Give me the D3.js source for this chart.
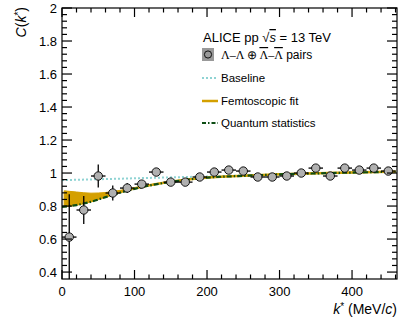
<!DOCTYPE html>
<html>
<head>
<meta charset="utf-8">
<script src="https://cdn.jsdelivr.net/npm/d3@7"></script>
<style>
  body { margin: 0; background: #fff; }
  text { font-family: "Liberation Sans", Arial, sans-serif; }
</style>
</head>
<body>
<svg id="chart" width="407" height="329"></svg>
<script>
// data points: k* bin centres, C(k*), stat. errors
const kStar = [10, 30, 50, 70, 90, 110, 130, 150, 170, 190, 210, 230, 250, 270, 290, 310, 330, 350, 370, 390, 410, 430, 450]
const cVal = [0.612, 0.776, 0.982, 0.879, 0.909, 0.933, 1.006, 0.945, 0.945, 0.976, 1.006, 1.018, 1.012, 0.976, 0.976, 0.982, 1.0, 1.03, 0.982, 1.03, 1.018, 1.03, 1.012]
const cErr = [0.26, 0.085, 0.07, 0.045, 0.03, 0.025, 0.022, 0.015, 0.012, 0.01, 0.008, 0.008, 0.008, 0.008, 0.008, 0.008, 0.008, 0.008, 0.008, 0.008, 0.008, 0.008, 0.008]

// curves
const curveK = [3, 20, 40, 60, 80, 100, 120, 150, 200, 250, 300, 350, 400, 460]
const fitUpper = [0.892, 0.885, 0.878, 0.882, 0.895, 0.912, 0.93, 0.952, 0.977, 0.988, 0.997, 1.003, 1.008, 1.013]
const fitLower = [0.795, 0.805, 0.825, 0.853, 0.88, 0.902, 0.921, 0.943, 0.968, 0.979, 0.988, 0.994, 0.999, 1.004]
const qsK = [0, 20, 40, 60, 80, 100, 120, 150, 200, 250, 300, 350, 400, 460]
const qsVal = [0.795, 0.806, 0.826, 0.854, 0.881, 0.904, 0.924, 0.946, 0.972, 0.983, 0.992, 0.998, 1.003, 1.008]
const baseK = [0, 460]
const baseVal = [0.957, 1.008]

const xTicks = [0, 100, 200, 300, 400]
const yTicks = [0.4, 0.6, 0.8, 1, 1.2, 1.4, 1.6, 1.8, 2]

const svg = d3.select('#chart')
const L = 62, R = 397, T = 8, B = 279

const x = d3.scaleLinear().domain([0, 462]).range([L, R])
const y = d3.scaleLinear().domain([0.358, 2]).range([B, T])

const plot = svg.append('g')
svg.append('clipPath').attr('id', 'clip').append('rect')
  .attr('x', L).attr('y', T).attr('width', R - L).attr('height', B - T)
plot.attr('clip-path', 'url(#clip)')

// baseline
plot.append('path')
  .datum(baseK.map((k, i) => [k, baseVal[i]]))
  .attr('d', d3.line().x(d => x(d[0])).y(d => y(d[1])))
  .attr('fill', 'none').attr('stroke', '#8fd3d3').attr('stroke-width', 2)
  .attr('stroke-dasharray', '2,2')

// femtoscopic fit band
plot.append('path')
  .datum(curveK.map((k, i) => [k, fitLower[i], fitUpper[i]]))
  .attr('d', d3.area().curve(d3.curveMonotoneX)
    .x(d => x(d[0])).y0(d => y(d[1])).y1(d => y(d[2])))
  .attr('fill', '#d4a000').attr('stroke', '#d4a000').attr('stroke-width', 1)

// quantum statistics
plot.append('path')
  .datum(qsK.map((k, i) => [k, qsVal[i]]))
  .attr('d', d3.line().curve(d3.curveMonotoneX).x(d => x(d[0])).y(d => y(d[1])))
  .attr('fill', 'none').attr('stroke', '#0d4d14').attr('stroke-width', 2.2)
  .attr('stroke-dasharray', '5,2,1.5,2')

// data with error bars
const pts = kStar.map((k, i) => ({ k: k, c: cVal[i], e: cErr[i] }))
const eg = plot.append('g').attr('stroke', '#000').attr('stroke-width', 1.3)
eg.selectAll('.ey').data(pts).enter().append('line')
  .attr('x1', d => x(d.k)).attr('x2', d => x(d.k))
  .attr('y1', d => y(d.c - d.e)).attr('y2', d => y(d.c + d.e))
eg.selectAll('.ex').data(pts).enter().append('line')
  .attr('x1', d => x(d.k - 10)).attr('x2', d => x(d.k + 10))
  .attr('y1', d => y(d.c)).attr('y2', d => y(d.c))
plot.selectAll('circle').data(pts).enter().append('circle')
  .attr('cx', d => x(d.k)).attr('cy', d => y(d.c)).attr('r', 4.2)
  .attr('fill', '#b0b0b0').attr('stroke', '#000').attr('stroke-width', 0.9)

// frame and ticks (ROOT style, inward)
const ax = svg.append('g').attr('stroke', '#000').attr('stroke-width', 1.2)
ax.append('rect').attr('x', L).attr('y', T).attr('width', R - L).attr('height', B - T).attr('fill', 'none')
const xMinor = d3.range(0, 462, 20)
xMinor.forEach(v => {
  const len = v % 100 === 0 ? 9 : 4.5
  ax.append('line').attr('x1', x(v)).attr('x2', x(v)).attr('y1', B).attr('y2', B - len)
  ax.append('line').attr('x1', x(v)).attr('x2', x(v)).attr('y1', T).attr('y2', T + len)
})
const yMinor = d3.range(0.4, 2.001, 0.04)
yMinor.forEach(v => {
  const major = Math.abs(v * 5 - Math.round(v * 5)) < 1e-6
  const len = major ? 10 : 5
  ax.append('line').attr('x1', L).attr('x2', L + len).attr('y1', y(v)).attr('y2', y(v))
  ax.append('line').attr('x1', R).attr('x2', R - len).attr('y1', y(v)).attr('y2', y(v))
})

svg.selectAll('.xl').data(xTicks).enter().append('text')
  .attr('x', d => x(d)).attr('y', B + 17).attr('text-anchor', 'middle')
  .attr('font-size', 13).text(d => d)
svg.selectAll('.yl').data(yTicks).enter().append('text')
  .attr('x', L - 5).attr('y', d => y(d) + 5).attr('text-anchor', 'end')
  .attr('font-size', 13).text(d => d)

// axis titles
const xt = svg.append('text').attr('x', R).attr('y', 314).attr('text-anchor', 'end').attr('font-size', 14)
xt.append('tspan').attr('font-style', 'italic').text('k')
xt.append('tspan').attr('font-size', 10).attr('dy', -4).text('*')
xt.append('tspan').attr('dy', 4).text(' (MeV/')
xt.append('tspan').attr('font-style', 'italic').text('c')
xt.append('tspan').text(')')

const yt = svg.append('text').attr('transform', 'translate(26,7) rotate(-90)')
  .attr('text-anchor', 'end').attr('font-size', 14)
yt.append('tspan').attr('font-style', 'italic').text('C')
yt.append('tspan').text('(')
yt.append('tspan').attr('font-style', 'italic').text('k')
yt.append('tspan').attr('font-size', 10).attr('dy', -4).text('*')
yt.append('tspan').attr('dy', 4).text(')')

// legend
const lg = svg.append('g')
const t1 = lg.append('text').attr('x', 203).attr('y', 42).attr('font-size', 13)
t1.append('tspan').text('ALICE pp ')
t1.append('tspan').text('√')
t1.append('tspan').attr('font-style', 'italic').style('text-decoration', 'overline').text('s')
t1.append('tspan').text(' = 13 TeV')

lg.append('rect').attr('x', 202).attr('y', 48).attr('width', 12).attr('height', 13).attr('fill', '#999')
lg.append('circle').attr('cx', 208).attr('cy', 54.5).attr('r', 3.6).attr('fill', 'none').attr('stroke', '#000').attr('stroke-width', 0.9)
const t2 = lg.append('text').attr('x', 221).attr('y', 59).attr('font-size', 12)
t2.append('tspan').attr('font-family', 'Liberation Serif, serif').text('Λ–Λ ⊕ ')
t2.append('tspan').attr('font-family', 'Liberation Serif, serif').style('text-decoration', 'overline').text('Λ')
t2.append('tspan').attr('font-family', 'Liberation Serif, serif').text('–')
t2.append('tspan').attr('font-family', 'Liberation Serif, serif').style('text-decoration', 'overline').text('Λ')
t2.append('tspan').text(' pairs')

const items = [
  { label: 'Baseline', y: 78, color: '#8fd3d3', dash: '2,2', w: 2 },
  { label: 'Femtoscopic fit', y: 101, color: '#d4a000', dash: null, w: 2.5 },
  { label: 'Quantum statistics', y: 123, color: '#0d4d14', dash: '4,2,1.5,2', w: 2.2 }
]
items.forEach(it => {
  lg.append('line').attr('x1', 202).attr('x2', 218).attr('y1', it.y).attr('y2', it.y)
    .attr('stroke', it.color).attr('stroke-width', it.w).attr('stroke-dasharray', it.dash)
  lg.append('text').attr('x', 221).attr('y', it.y + 4).attr('font-size', 11.5).text(it.label)
})
</script>
</body>
</html>
